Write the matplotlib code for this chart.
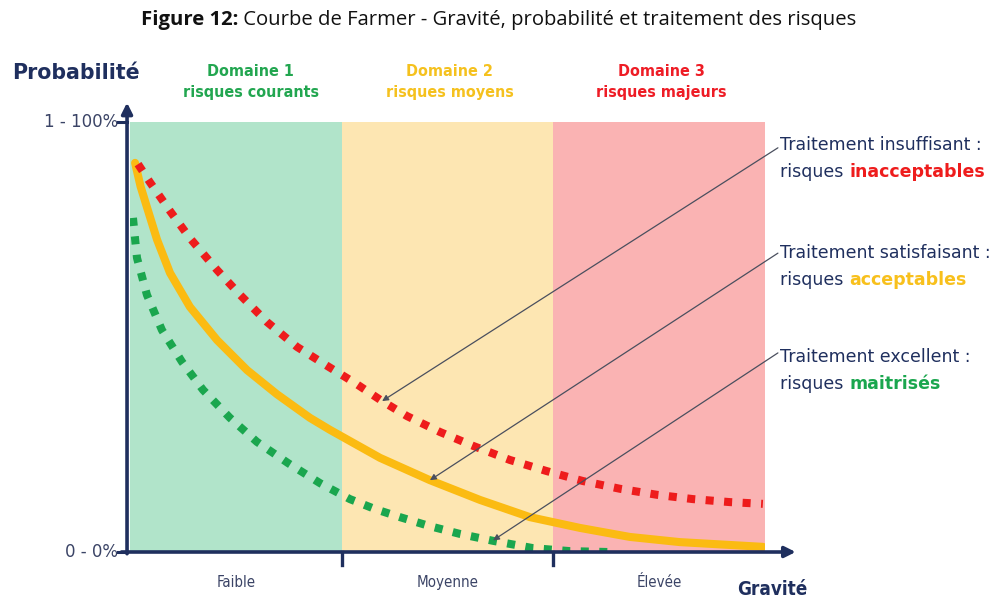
import matplotlib
matplotlib.use("Agg")
import matplotlib.pyplot as plt

# ---- data ----
domains = ["Domaine 1\nrisques courants", "Domaine 2\nrisques moyens", "Domaine 3\nrisques majeurs"]
domain_edges = [0, 1, 2, 3]
severity_labels = ["Faible", "Moyenne", "Élevée"]

red_x = [0.038, 0.094, 0.189, 0.283, 0.411, 0.520, 0.647, 0.789, 0.931, 1.063, 1.191, 1.309,
         1.465, 1.620, 1.795, 1.970, 2.140, 2.315, 2.490, 2.660, 2.835, 2.990]
red_y = [0.902, 0.860, 0.793, 0.730, 0.656, 0.598, 0.535, 0.477, 0.433, 0.393, 0.351, 0.316,
         0.279, 0.247, 0.214, 0.188, 0.165, 0.147, 0.133, 0.123, 0.116, 0.112]

yel_x = [0.024, 0.050, 0.080, 0.128, 0.189, 0.283, 0.411, 0.553, 0.694, 0.850, 0.945, 1.181,
         1.417, 1.654, 1.890, 2.126, 2.362, 2.598, 2.990]
yel_y = [0.905, 0.850, 0.802, 0.726, 0.649, 0.570, 0.493, 0.423, 0.367, 0.312, 0.284, 0.219,
         0.167, 0.121, 0.081, 0.056, 0.035, 0.023, 0.012]

grn_x = [0.014, 0.033, 0.080, 0.151, 0.246, 0.345, 0.472, 0.600, 0.746, 0.898, 1.039, 1.157,
         1.276, 1.417, 1.559, 1.715, 1.904, 2.079, 2.258]
grn_y = [0.777, 0.684, 0.598, 0.516, 0.442, 0.377, 0.312, 0.256, 0.207, 0.160, 0.123, 0.100,
         0.081, 0.060, 0.042, 0.026, 0.009, 0.002, 0.0]

# annotation targets (x, y) on each curve
targets = [(1.191, 0.351), (1.417, 0.167), (1.715, 0.027)]
label_first = ["Traitement insuffisant :", "Traitement satisfaisant :", "Traitement excellent :"]
label_words = ["inacceptables", "acceptables", "maitrisés"]

navy = "#1f2f5e"
bg_cols = ["#b1e4ca", "#fde6b2", "#fab3b3"]
dom_cols = ["#22a650", "#f5c11e", "#ee1c25"]
red = "#ee1c1c"
yellow = "#fbbb12"
green = "#1aa64e"

W, H = 997, 599
fig = plt.figure(figsize=(W / 100, H / 100), dpi=100)
ax = fig.add_axes([130 / W, (H - 552) / H, 635 / W, 430 / H])
ax.set_xlim(0, 3)
ax.set_ylim(0, 1)
ax.axis("off")

for i in range(3):
    ax.axvspan(domain_edges[i], domain_edges[i + 1], color=bg_cols[i], lw=0, zorder=0)

lw = 5.8
ax.plot(yel_x, yel_y, color=yellow, lw=lw, solid_capstyle="round", solid_joinstyle="round", zorder=3)
ax.plot(red_x, red_y, color=red, lw=lw, linestyle=(0, (1.0, 1.3)), dash_capstyle="butt", zorder=3)
ax.plot(grn_x, grn_y, color=green, lw=lw, linestyle=(0, (1.0, 1.3)), dash_capstyle="butt", zorder=3)

# axes arrows
ax.annotate("", xy=(-0.014, 1.045), xytext=(-0.014, -0.004),
            arrowprops=dict(arrowstyle="-|>", lw=2.6, color=navy, mutation_scale=16,
                            shrinkA=0, shrinkB=0), annotation_clip=False, zorder=5)
ax.annotate("", xy=(3.145, 0.0), xytext=(-0.04, 0.0),
            arrowprops=dict(arrowstyle="-|>", lw=2.6, color=navy, mutation_scale=16,
                            shrinkA=0, shrinkB=0), annotation_clip=False, zorder=5)
# tick marks
ax.plot([-0.055, -0.014], [1.0, 1.0], color=navy, lw=2.2, clip_on=False, zorder=5)
ax.plot([-0.055, -0.014], [0.0, 0.0], color=navy, lw=2.2, clip_on=False, zorder=5)
for xe in domain_edges[1:3]:
    ax.plot([xe, xe], [0, -0.03], color=navy, lw=2.4, clip_on=False, zorder=5)

cond = dict(family="DejaVu Sans", stretch="condensed")
norm = dict(family="DejaVu Sans")
tick_col = "#3b4466"
ax.text(-0.055, 1.0, "1 - 100%", ha="right", va="center", fontsize=12, color=tick_col, **norm)
ax.text(-0.055, 0.0, "0 - 0%", ha="right", va="center", fontsize=12, color=tick_col, **norm)
for i, lab in enumerate(severity_labels):
    ax.text(i + 0.5, -0.072, lab, ha="center", va="center", fontsize=10.8, color=tick_col, **cond)

ax.text(-0.555, 1.115, "Probabilité", ha="left", va="center", fontsize=14.8,
        fontweight="bold", color=navy, **norm)
ax.text(3.2, -0.088, "Gravité", ha="right", va="center", fontsize=13.5,
        fontweight="bold", color=navy, **cond)

dom_x = [0.57, 1.51, 2.51]
for i, d in enumerate(domains):
    ax.text(dom_x[i], 1.093, d, ha="center", va="center", fontsize=11.5, fontweight="bold",
            color=dom_cols[i], linespacing=1.5, **cond)

# right labels and pointer lines
word_cols = [red, "#f8c01c", green]
text_y = [0.9465, 0.695, 0.4535]
start_y = [0.94, 0.695, 0.463]
for (tx, ty), l1, w, yy, sy, wc in zip(targets, label_first, label_words, text_y, start_y, word_cols):
    ax.annotate("", xy=(tx, ty), xytext=(3.061, sy),
                arrowprops=dict(arrowstyle="-|>", lw=0.9, color="#4a4f5e", mutation_scale=9,
                                shrinkA=0, shrinkB=0), annotation_clip=False, zorder=6)
    ax.text(3.072, yy, l1, ha="left", va="center", fontsize=12.5, color=navy, **norm)
    t = ax.text(3.072, yy - 0.063, "risques ", ha="left", va="center", fontsize=12.5,
                color=navy, **norm)
    fig.canvas.draw()
    bb = t.get_window_extent()
    xend = ax.transData.inverted().transform((bb.x1, bb.y0))[0]
    ax.text(xend, yy - 0.063, w, ha="left", va="center", fontsize=12.5, color=wc,
            fontweight="bold", **norm)

# title
fig.canvas.draw()
t1 = fig.text(0, 1 - 20 / H, "Figure 12:", ha="left", va="center", fontsize=14.6,
              fontweight="bold", family="Open Sans", color="#111111")
t2 = fig.text(0, 1 - 20 / H, " Courbe de Farmer - Gravité, probabilité et traitement des risques",
              ha="left", va="center", fontsize=14.6, family="Open Sans", color="#111111")
fig.canvas.draw()
w1 = t1.get_window_extent().width
w2 = t2.get_window_extent().width
x0 = (W - (w1 + w2)) / 2
t1.set_x(x0 / W)
t2.set_x((x0 + w1) / W)

fig.savefig("out.png", dpi=100)
